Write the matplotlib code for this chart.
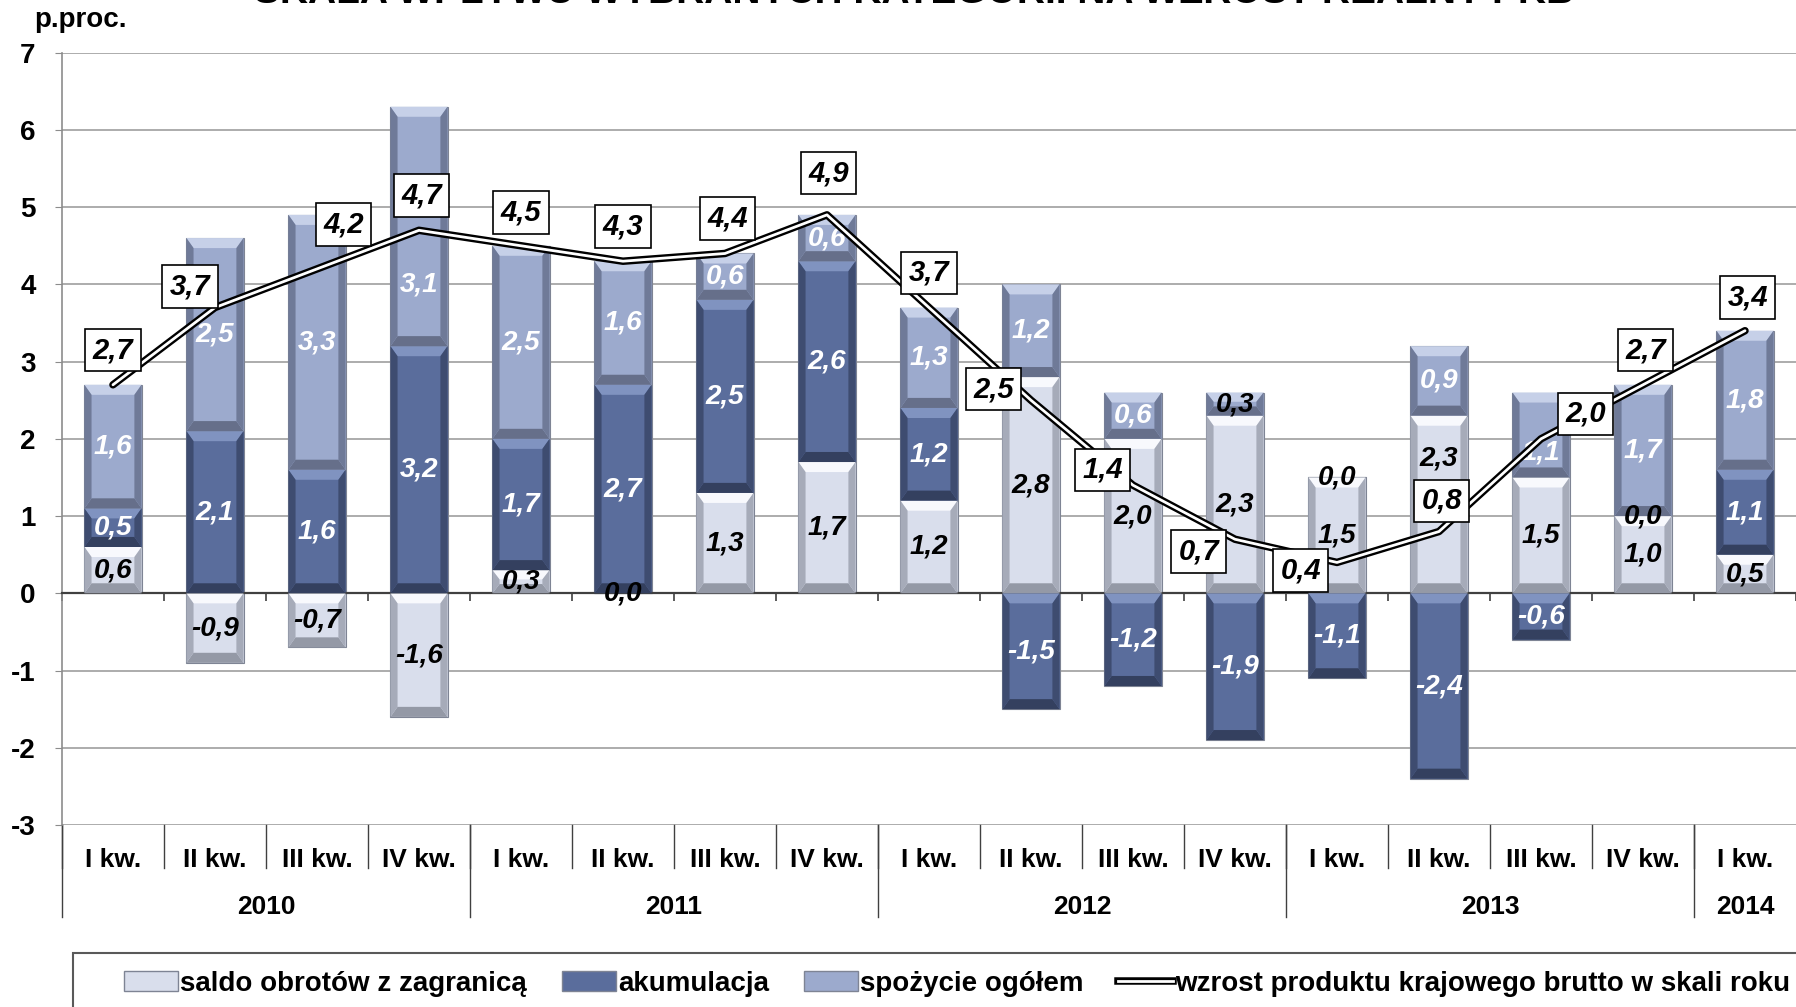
import numpy as np
import matplotlib.pyplot as plt
from matplotlib.patches import Polygon, Rectangle, Patch
from matplotlib.lines import Line2D
from matplotlib.legend_handler import HandlerTuple

quarters = ['I kw.', 'II kw.', 'III kw.', 'IV kw.'] * 4 + ['I kw.']
years = ['2010', '2011', '2012', '2013', '2014']
year_len = [4, 4, 4, 4, 1]

saldo = [0.6, -0.9, -0.7, -1.6, 0.3, 0.0, 1.3, 1.7, 1.2, 2.8, 2.0, 2.3, 1.5, 2.3, 1.5, 1.0, 0.5]
akumulacja = [0.5, 2.1, 1.6, 3.2, 1.7, 2.7, 2.5, 2.6, 1.2, -1.5, -1.2, -1.9, -1.1, -2.4, -0.6, 0.0, 1.1]
spozycie = [1.6, 2.5, 3.3, 3.1, 2.5, 1.6, 0.6, 0.6, 1.3, 1.2, 0.6, 0.3, 0.0, 0.9, 1.1, 1.7, 1.8]
pkb = [2.7, 3.7, 4.2, 4.7, 4.5, 4.3, 4.4, 4.9, 3.7, 2.5, 1.4, 0.7, 0.4, 0.8, 2.0, 2.7, 3.4]

labels = ['saldo obrotów z zagranicą', 'akumulacja', 'spożycie ogółem',
          'wzrost produktu krajowego brutto w skali roku']
title = 'SKALA WPŁYWU WYBRANYCH KATEGORII NA WZROST REALNY PKB'

# where the value boxes of the pkb line sit (points from the point)
pkb_off = [(0, 25), (-18, 15), (19, 32), (2, 25), (0, 24), (0, 25), (2, 25), (1, 30), (0, 25),
           (-27, 8), (-22, 11), (-26, -9), (-26, -6), (2, 22), (32, 18), (2, 25), (2, 24)]

# labels moved by hand in the original (series, quarter) -> y
label_pos = {('spoz', 3): 4.0, ('saldo', 13): 1.75, ('spoz', 14): 1.82}

# base, top bevel, side, bottom
colors = {
    'saldo': ('#D9DEEC', '#F8F9FD', '#A6ABB9', '#9499A6'),
    'akum': ('#5A6D9C', '#8093C0', '#3E4C70', '#34405F'),
    'spoz': ('#9CAACD', '#C6D0E8', '#6F7A98', '#666F8A'),
}


def bevel(ax, bar, cols):
    x0, y0 = bar.get_x(), bar.get_y()
    w, h = bar.get_width(), bar.get_height()
    if h == 0:
        return
    lo, hi = min(y0, y0 + h), max(y0, y0 + h)
    x1 = x0 + w
    bx = 0.07
    by = min(0.13, (hi - lo) * 0.4)
    c_base, c_top, c_side, c_bot = cols
    parts = [
        ([(x0, hi), (x1, hi), (x1 - bx, hi - by), (x0 + bx, hi - by)], c_top),
        ([(x0, lo), (x1, lo), (x1 - bx, lo + by), (x0 + bx, lo + by)], c_bot),
        ([(x0, lo), (x0 + bx, lo + by), (x0 + bx, hi - by), (x0, hi)], c_side),
        ([(x1, lo), (x1 - bx, lo + by), (x1 - bx, hi - by), (x1, hi)], c_side),
    ]
    for pts, c in parts:
        ax.add_patch(Polygon(pts, closed=True, fc=c, ec='none', zorder=3))


def fmt(v):
    return f'{v:.1f}'.replace('.', ',')


def main():
    fig = plt.figure(figsize=(17.96, 10.07), dpi=100)
    ax = fig.add_axes([0.0345, 0.1807, 0.9655, 0.767])

    x = np.arange(len(quarters))
    pos = np.zeros(len(x))
    neg = np.zeros(len(x))
    for vals, key in [(saldo, 'saldo'), (akumulacja, 'akum'), (spozycie, 'spoz')]:
        vals = np.array(vals)
        bottom = np.where(vals >= 0, pos, neg)
        bars = ax.bar(x, vals, width=0.56, bottom=bottom, color=colors[key][0],
                      edgecolor='#7E8494', linewidth=0.8, zorder=2)
        for b in bars:
            bevel(ax, b, colors[key])
        for i, v in enumerate(vals):
            if key == 'saldo' or abs(v) < 0.5:
                tc = 'black'
            else:
                tc = 'white'
            ty = label_pos.get((key, i), bottom[i] + v / 2)
            ax.text(i, ty, fmt(v), ha='center', va='center', fontsize=20,
                    fontweight='bold', fontstyle='italic', color=tc, zorder=6)
        pos = pos + np.clip(vals, 0, None)
        neg = neg + np.clip(vals, None, 0)

    ax.plot(x, pkb, color='black', lw=5.4, solid_capstyle='round', solid_joinstyle='round', zorder=7)
    ax.plot(x, pkb, color='white', lw=2.0, solid_capstyle='round', solid_joinstyle='round', zorder=8)
    for i, v in enumerate(pkb):
        ax.annotate(fmt(v), (i, v), xytext=pkb_off[i], textcoords='offset points',
                    ha='center', va='center', fontsize=21, fontweight='bold', fontstyle='italic',
                    bbox=dict(boxstyle='square,pad=0.25', fc='white', ec='black', lw=1.2), zorder=9)

    ax.set_xlim(-0.5, len(x) - 0.5)
    ax.set_ylim(-3, 7)
    ax.set_yticks(range(-3, 8))
    ax.yaxis.grid(True, color='#A6A6A6', lw=1.3)
    ax.set_axisbelow(True)
    for s in ['top', 'right']:
        ax.spines[s].set_visible(False)
    ax.spines['left'].set_color('#8C8C8C')
    ax.spines['left'].set_linewidth(1.2)
    ax.spines['bottom'].set_position(('data', 0))
    ax.spines['bottom'].set_color('#404040')
    ax.spines['bottom'].set_linewidth(1.6)
    ax.set_xticks(np.arange(-0.5, len(x), 1))
    ax.set_xticklabels([])
    ax.tick_params(axis='x', length=6, color='#404040', width=1.2)
    ax.tick_params(axis='y', length=5, color='#8C8C8C', labelsize=20, pad=14)
    for t in ax.get_yticklabels():
        t.set_fontweight('bold')

    tr = ax.get_xaxis_transform()
    for i, q in enumerate(quarters):
        ax.text(i, -0.0455, q, transform=tr, ha='center', va='center', fontsize=19, fontweight='bold')
        ax.plot([i - 0.5, i - 0.5], [0, -0.0557], transform=tr, color='#404040', lw=1, clip_on=False)
    start = 0
    for y, n in zip(years, year_len):
        ax.text(start + (n - 1) / 2, -0.106, y, transform=tr, ha='center', va='center',
                fontsize=19, fontweight='bold')
        ax.plot([start - 0.5, start - 0.5], [0, -0.119], transform=tr, color='#404040', lw=1, clip_on=False)
        start += n

    fig.text(0.509, 1 - 3 / 1007, title, ha='center', va='baseline', fontsize=28, fontweight='bold')
    fig.text(34 / 1796, 1 - 20 / 1007, 'p.proc.', ha='left', va='center', fontsize=20, fontweight='bold')

    handles = [Patch(fc=colors['saldo'][0], ec='#7E8494'),
               Patch(fc=colors['akum'][0], ec='#7E8494'),
               Patch(fc=colors['spoz'][0], ec='#7E8494'),
               (Line2D([], [], color='black', lw=5.4), Line2D([], [], color='white', lw=2))]
    fig.legend(handles, labels, loc='center left', bbox_to_anchor=(0.055, 0.023), ncol=4,
               frameon=False, prop={'size': 20, 'weight': 'bold'}, handlelength=1.95,
               handletextpad=0.08, columnspacing=1.25, handler_map={tuple: HandlerTuple(ndivide=1)})
    fig.add_artist(Rectangle((73 / 1796, -0.1), 1.0, 0.1 + 1 - 953 / 1007, transform=fig.transFigure,
                             fill=False, ec='#595959', lw=1.5))

    fig.savefig('out.png', dpi=100)


if __name__ == '__main__':
    plt.rcParams['font.family'] = ['Liberation Sans', 'DejaVu Sans']
    plt.rcParams['axes.unicode_minus'] = False
    main()
